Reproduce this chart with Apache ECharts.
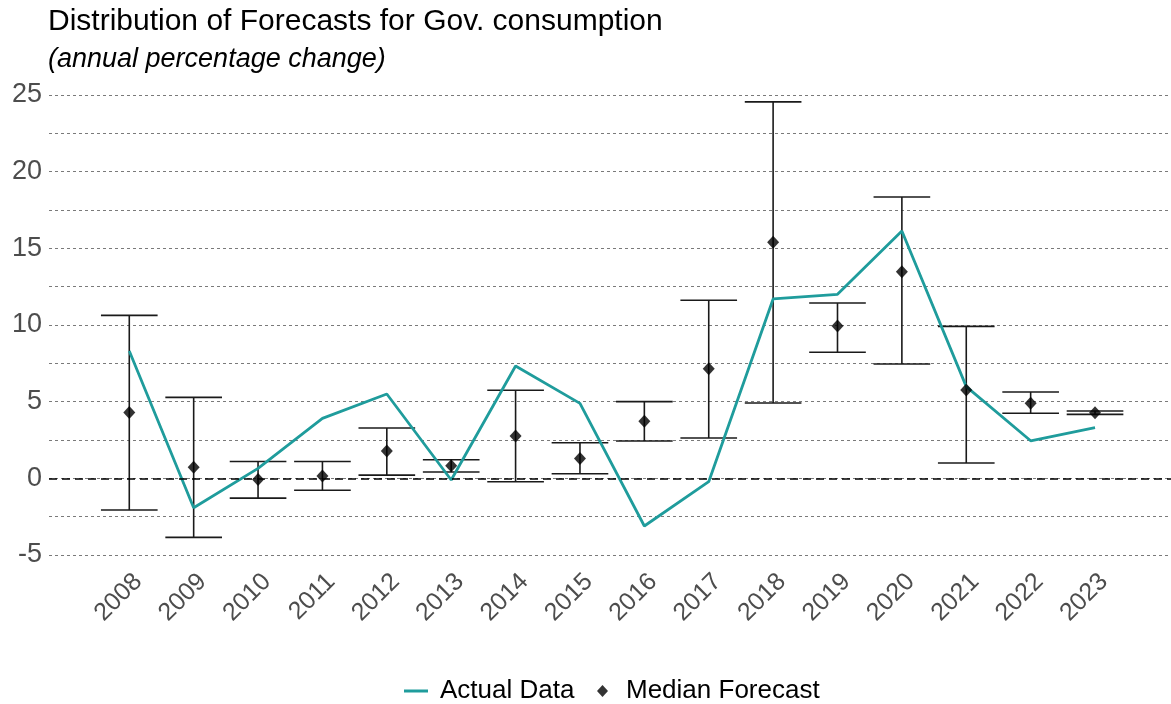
<!DOCTYPE html>
<html>
<head>
<meta charset="utf-8">
<script src="https://cdn.jsdelivr.net/npm/echarts@6/dist/echarts.min.js"></script>
<style>
  html, body { margin: 0; padding: 0; background: #ffffff; }
  #chart { width: 1171px; height: 704px; }
</style>
</head>
<body>
<div id="chart"></div>
<script>
// Forecast years
const years = [2008, 2009, 2010, 2011, 2012, 2013, 2014, 2015, 2016, 2017, 2018, 2019, 2020, 2021, 2022, 2023];
// Outturn of government consumption growth
const actual = [8.3, -1.92, 0.65, 3.91, 5.5, -0.11, 7.33, 4.89, -3.11, -0.22, 11.7, 12.0, 16.13, 5.98, 2.45, 3.3];
// Median of the forecasts
const median = [4.3, 0.72, -0.07, 0.15, 1.78, 0.82, 2.76, 1.3, 3.72, 7.15, 15.39, 9.93, 13.48, 5.76, 4.89, 4.28];
// Lowest and highest forecast
const low = [-2.07, -3.85, -1.29, -0.78, 0.21, 0.41, -0.22, 0.3, 2.43, 2.63, 4.91, 8.22, 7.46, 1.0, 4.24, 4.17];
const high = [10.63, 5.28, 1.1, 1.1, 3.28, 1.21, 5.74, 2.32, 5.0, 11.61, 24.55, 11.43, 18.35, 9.91, 5.63, 4.39];
// Labelled y values
const yTicks = [-5, 0, 5, 10, 15, 20, 25];

const FONT = "'Liberation Sans', Arial, Helvetica, sans-serif";
const TEAL = '#1f9c9c';

const chart = echarts.init(document.getElementById('chart'), null, { renderer: 'canvas' });

const option = {
  backgroundColor: '#ffffff',
  animation: false,
  textStyle: { fontFamily: FONT },
  title: {
    text: 'Distribution of Forecasts for Gov. consumption',
    subtext: '(annual percentage change)',
    left: 44,
    top: 3,
    padding: [4, 4, 4, 4],
    itemGap: 9,
    textStyle: { fontFamily: FONT, fontSize: 30, fontWeight: 'normal', color: '#000000' },
    subtextStyle: { fontFamily: FONT, fontSize: 27, fontStyle: 'italic', color: '#000000' }
  },
  legend: [
    {
      data: [{ name: 'Actual Data', icon: 'rect' }],
      left: 404,
      top: 678,
      padding: 0,
      itemWidth: 24,
      itemHeight: 3,
      textStyle: { fontFamily: FONT, fontSize: 26, color: '#000000', padding: [0, 0, 0, 7] }
    },
    {
      data: [{ name: 'Median Forecast', icon: 'diamond' }],
      left: 597,
      top: 678,
      padding: 0,
      itemWidth: 11,
      itemHeight: 12,
      textStyle: { fontFamily: FONT, fontSize: 26, color: '#000000', padding: [0, 0, 0, 13] }
    }
  ],
  grid: { left: 49, right: 0, top: 95, bottom: 149, containLabel: false },
  xAxis: {
    type: 'value',
    min: 2006.753,
    max: 2024.18,
    axisLine: { show: false },
    axisTick: { show: false },
    splitLine: { show: false },
    axisLabel: {
      customValues: years,
      formatter: v => String(v),
      rotate: 45,
      align: 'right',
      verticalAlign: 'top',
      margin: 14,
      fontFamily: FONT,
      fontSize: 25,
      color: '#4d4d4d'
    }
  },
  yAxis: {
    type: 'value',
    min: -5,
    max: 25,
    interval: 2.5,
    axisLine: { show: false },
    axisTick: { show: false },
    axisLabel: {
      formatter: v => (yTicks.includes(v) ? String(v) : ''),
      margin: 7,
      fontFamily: FONT,
      fontSize: 27,
      color: '#4d4d4d'
    },
    splitLine: { show: true, lineStyle: { color: '#7a7a7a', type: [3, 3], width: 1 } }
  },
  series: [
    {
      name: 'Forecast range',
      type: 'custom',
      z: 2,
      data: years.map((y, i) => [y, low[i], high[i]]),
      encode: { x: 0, y: [1, 2] },
      renderItem: function (params, api) {
        const x = api.value(0);
        const lo = api.coord([x, api.value(1)]);
        const hi = api.coord([x, api.value(2)]);
        const half = api.size([0.88, 0])[0] / 2;
        const style = { stroke: '#1a1a1a', lineWidth: 1.6, fill: null };
        return {
          type: 'group',
          children: [
            { type: 'line', shape: { x1: lo[0], y1: lo[1], x2: hi[0], y2: hi[1] }, style: style },
            { type: 'line', shape: { x1: lo[0] - half, y1: lo[1], x2: lo[0] + half, y2: lo[1] }, style: style },
            { type: 'line', shape: { x1: hi[0] - half, y1: hi[1], x2: hi[0] + half, y2: hi[1] }, style: style }
          ]
        };
      }
    },
    {
      name: 'Actual Data',
      type: 'line',
      z: 3,
      data: years.map((y, i) => [y, actual[i]]),
      symbol: 'none',
      color: TEAL,
      lineStyle: { color: TEAL, width: 2.8 },
      markLine: {
        silent: true,
        symbol: 'none',
        label: { show: false },
        lineStyle: { color: '#000000', type: [8, 5], width: 1.5 },
        data: [{ yAxis: 0 }]
      }
    },
    {
      name: 'Median Forecast',
      type: 'scatter',
      z: 4,
      data: years.map((y, i) => [y, median[i]]),
      symbol: 'diamond',
      symbolSize: [12, 13],
      color: '#000000',
      itemStyle: { color: '#000000' }
    }
  ]
};

chart.setOption(option);
</script>
</body>
</html>
